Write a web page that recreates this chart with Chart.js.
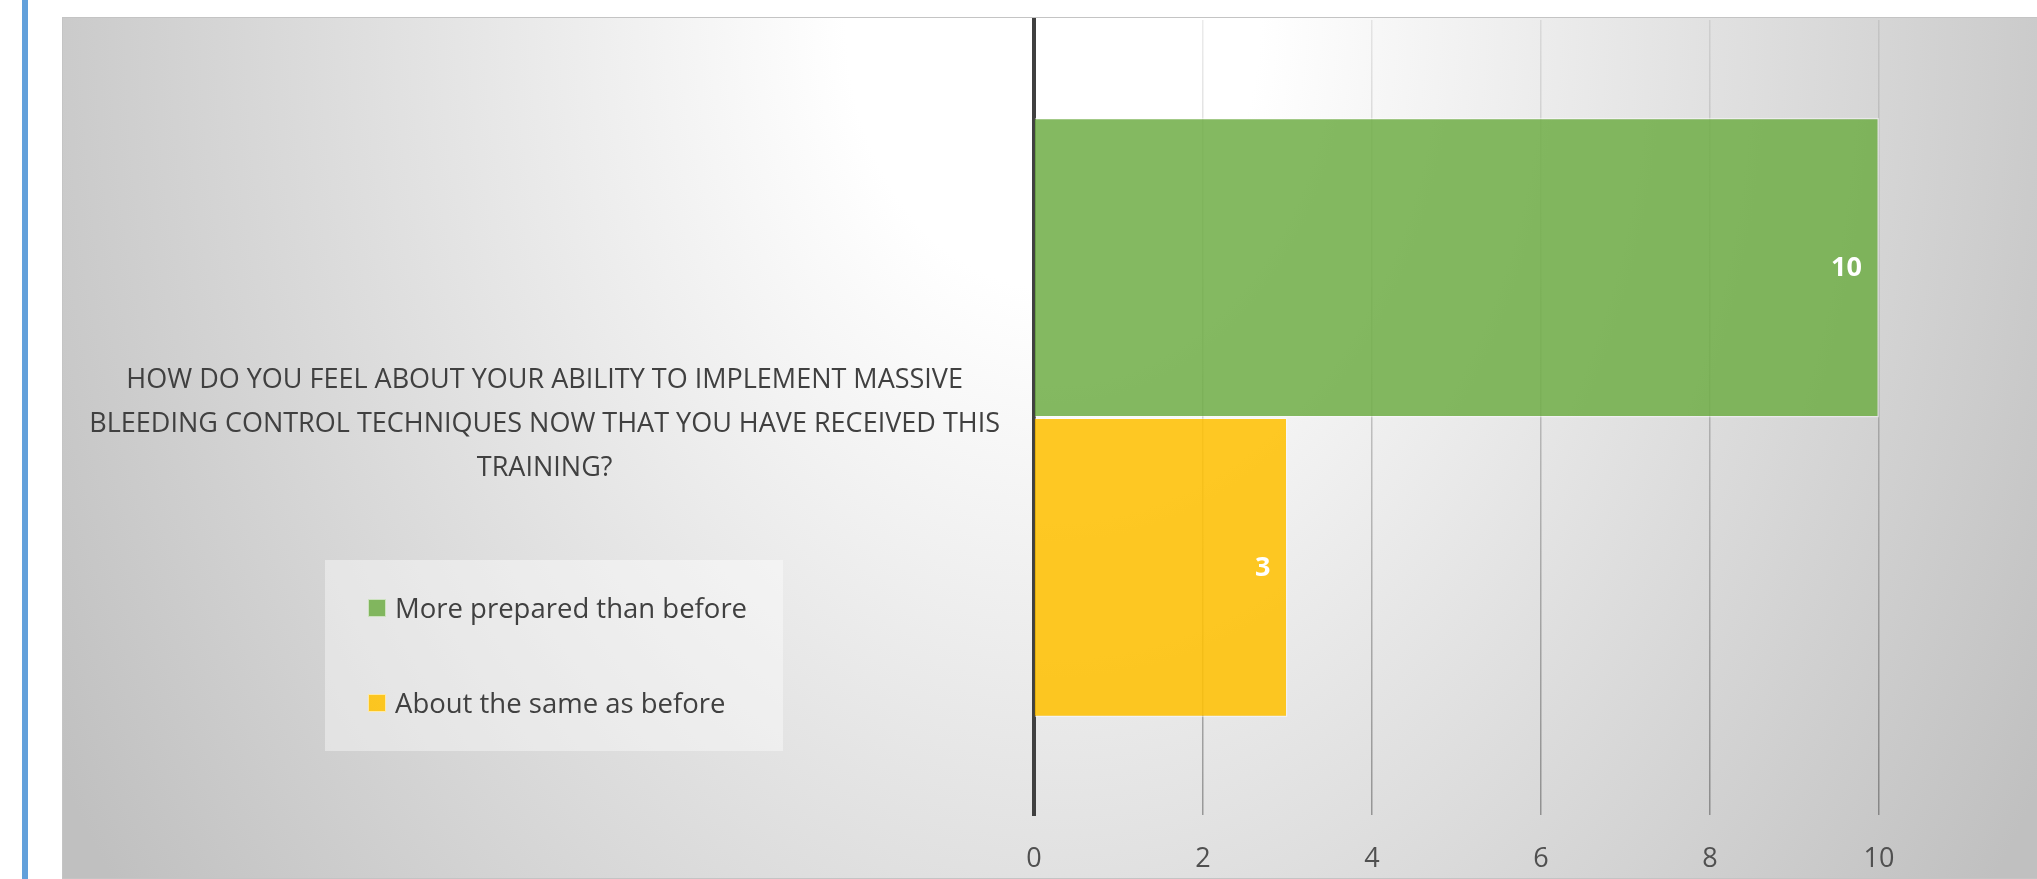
<!DOCTYPE html>
<html>
<head>
<meta charset="utf-8">
<script src="https://cdn.jsdelivr.net/npm/chart.js@4"></script>
<style>
  html, body { margin: 0; padding: 0; width: 2037px; height: 879px; overflow: hidden; background: #fff; font-family: "Open Sans", sans-serif; }
  #bar { position: absolute; left: 22px; top: 0; width: 6px; height: 879px; background: #62a0db; }
  #panel { position: absolute; left: 62px; top: 17px; width: 2000px; height: 862px; box-sizing: border-box;
    border: 1px solid #c4c4c4;
    background: radial-gradient(ellipse 1150px 1500px at 990px 0px, #ffffff 0%, #ffffff 18%, #c0c0c0 100%); }
  #wrap { position: absolute; left: 62px; top: 17px; width: 2000px; height: 862px; }
  #legend { position: absolute; left: 325px; top: 560px; width: 458px; height: 191px; background: rgba(255,255,255,0.4); }
  .item { position: absolute; left: 43px; display: flex; align-items: center; font-size: 27.5px; color: #404040; }
  .box { width: 18px; height: 18px; margin-right: 9px; box-sizing: border-box; border: 1px solid rgba(255,255,255,0.6); }
</style>
</head>
<body>
<div id="bar"></div>
<div id="panel"></div>
<div id="wrap"><canvas id="myChart"></canvas></div>
<div id="legend"></div>
<script>
const categories = [[
  'HOW DO YOU FEEL ABOUT YOUR ABILITY TO IMPLEMENT MASSIVE',
  'BLEEDING CONTROL TECHNIQUES NOW THAT YOU HAVE RECEIVED THIS',
  'TRAINING?'
]];
const seriesNames = ['More prepared than before', 'About the same as before'];
const morePrepared = [10];
const aboutSame = [3];
const xTickValues = [0, 2, 4, 6, 8, 10];
const colors = ['rgba(112,173,71,0.86)', 'rgba(255,192,0,0.86)'];

// light at the top, darker towards the bottom, like the original
function gridColor(c) {
  const ca = c.chart.chartArea;
  if (!ca) return 'rgba(0,0,0,0.15)';
  const g = c.chart.ctx.createLinearGradient(0, ca.top, 0, ca.bottom);
  g.addColorStop(0, 'rgba(0,0,0,0.08)');
  g.addColorStop(1, 'rgba(0,0,0,0.33)');
  return g;
}

const valueLabels = {
  id: 'valueLabels',
  afterDatasetsDraw(chart) {
    const ctx = chart.ctx;
    ctx.save();
    ctx.font = 'bold 27px "Open Sans"';
    ctx.fillStyle = '#ffffff';
    ctx.textAlign = 'right';
    ctx.textBaseline = 'middle';
    chart.data.datasets.forEach((ds, i) => {
      chart.getDatasetMeta(i).data.forEach((el, j) => {
        ctx.fillText(String(ds.data[j]), el.x - 17, el.y + 1);
      });
    });
    ctx.restore();
  }
};

const ctx = document.getElementById('myChart').getContext('2d');
const chart = new Chart(ctx, {
  type: 'bar',
  data: {
    labels: categories,
    datasets: [
      {
        label: seriesNames[0],
        data: morePrepared,
        backgroundColor: colors[0],
        borderColor: 'rgba(255,255,255,0.45)',
        borderWidth: 1.5
      },
      {
        label: seriesNames[1],
        data: aboutSame,
        backgroundColor: colors[1],
        borderColor: 'rgba(255,255,255,0.45)',
        borderWidth: 1.5
      }
    ]
  },
  options: {
    indexAxis: 'y',
    responsive: true,
    maintainAspectRatio: false,
    animation: false,
    layout: { padding: { top: 3, right: 14, left: 0, bottom: 0 } },
    datasets: { bar: { categoryPercentage: 0.754, barPercentage: 1 } },
    plugins: {
      legend: { display: false },
      tooltip: { enabled: false }
    },
    scales: {
      x: {
        min: 0,
        max: 12,
        afterBuildTicks: s => { s.ticks = xTickValues.map(v => ({ value: v })); },
        afterFit: s => { s.height = 64; s.paddingLeft = 0; s.paddingRight = 0; },
        grid: { color: gridColor, lineWidth: 1.5, drawTicks: false },
        border: { display: false },
        ticks: { padding: 28, color: '#505050', font: { family: 'Open Sans', size: 27 } }
      },
      y: {
        afterFit: s => { s.width = 972; s.paddingTop = 0; s.paddingBottom = 0; },
        grid: { display: false, drawTicks: false },
        border: { display: true, color: '#404040', width: 4 },
        ticks: {
          crossAlign: 'center',
          padding: 34,
          labelOffset: 7,
          color: '#404040',
          font: { family: 'Open Sans', size: 27, lineHeight: 1.63 }
        }
      }
    }
  },
  plugins: [valueLabels]
});

// html legend built from the chart's datasets
const legend = document.getElementById('legend');
chart.data.datasets.forEach((ds, i) => {
  const item = document.createElement('div');
  item.className = 'item';
  item.style.top = (i === 0 ? 29 : 124) + 'px';
  const box = document.createElement('span');
  box.className = 'box';
  box.style.background = ds.backgroundColor;
  const txt = document.createElement('span');
  txt.textContent = ds.label;
  item.appendChild(box);
  item.appendChild(txt);
  legend.appendChild(item);
});
</script>
</body>
</html>
